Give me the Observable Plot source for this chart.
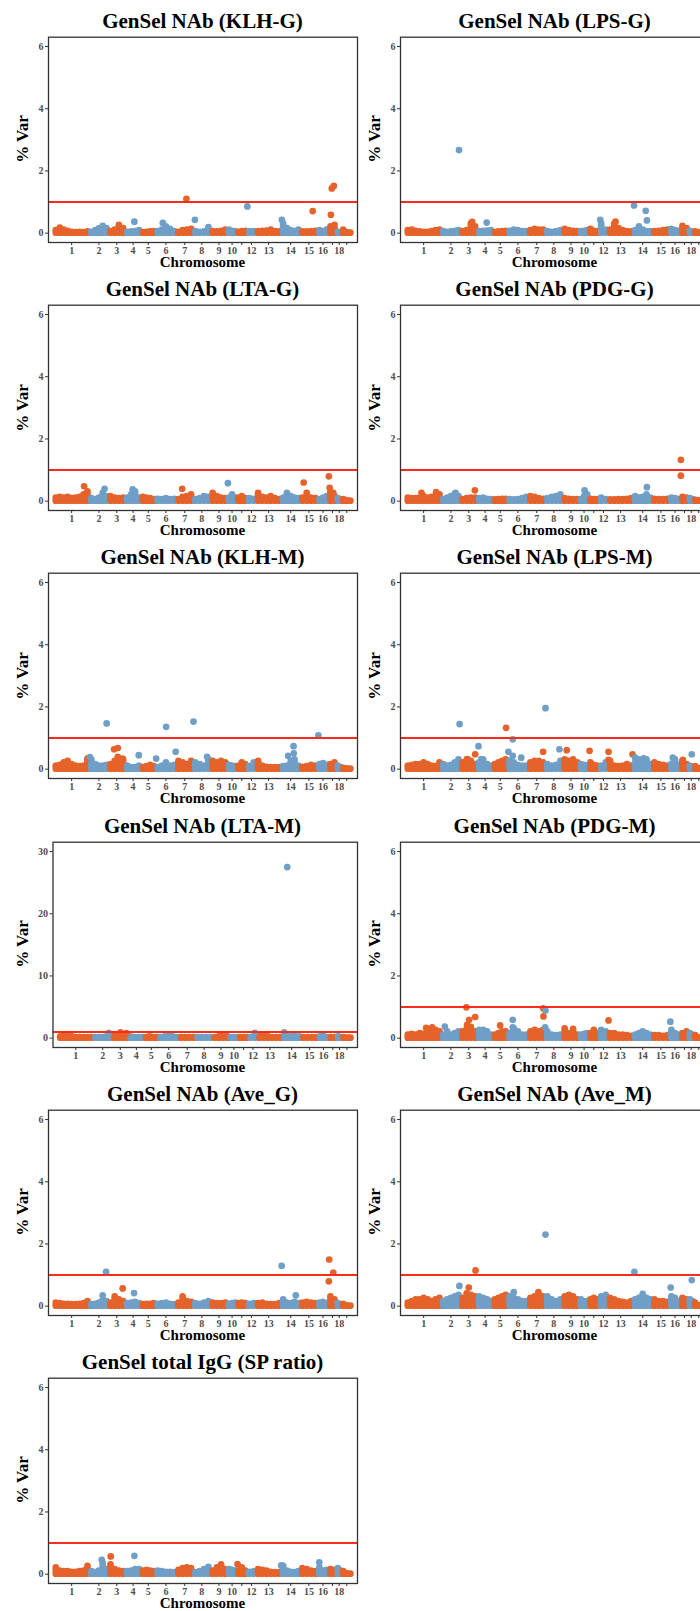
<!DOCTYPE html>
<html><head><meta charset="utf-8">
<script src="https://cdn.jsdelivr.net/npm/d3@7"></script>
<script src="https://cdn.jsdelivr.net/npm/@observablehq/plot@0.6"></script>
<style>
body{margin:0;width:700px;height:1611px;overflow:hidden;background:#fff;font-family:"Liberation Serif",serif;}
#fig{position:relative;width:700px;height:1611px;overflow:hidden;}
.panel{position:absolute;width:360px;height:272px;}
.title{position:absolute;left:38px;width:329px;top:9px;text-align:center;font-weight:bold;font-size:21px;line-height:24px;white-space:nowrap;color:#000;}
.ylab{position:absolute;left:21.7px;top:139.4px;transform:translate(-50%,-50%) rotate(-90deg);font-weight:bold;font-size:17px;line-height:17px;white-space:nowrap;color:#000;}
.xlab{position:absolute;left:48px;width:309px;top:254px;text-align:center;font-weight:bold;font-size:15px;line-height:17px;color:#000;}
.panel svg{position:absolute;left:0;top:0;overflow:visible;}
</style></head><body><div id="fig"></div>
<script>
// Chromosome layout (lengths, Mb-like units)
const chrLen = [309,164,146,137,126,180,146,151,146,81,88,79,219,164,151,94,70,47,84];
const chrLabels = ["1","2","3","4","5","6","7","8","9","10","","12","13","14","15","16","","18",""];
const threshold = 1;

// Band envelopes per chromosome (values along each chromosome) and isolated peaks [chr, fraction, %Var]
const klhG_band = [[0.08,0.16,0.1,0.06,0.03,0.02,0.03,0.02,0.04],[0.03,0.08,0.14,0.22,0.15],[0.05,0.1,0.25,0.15],[0.03,0.04,0.05,0.08],[0.02,0.03,0.04,0.05],[0.05,0.1,0.2,0.12,0.05],[0.03,0.08,0.1,0.12],[0.05,0.03,0.04,0.18],[0.05,0.04,0.06,0.1],[0.1,0.06,0.05],[0.03,0.05,0.06],[0.05,0.05],[0.05,0.06,0.07,0.1,0.05,0.04],[0.3,0.15,0.08,0.05,0.1],[0.04,0.04,0.05,0.06],[0.08,0.05,0.1],[0.2,0.25],[0.03,0.02],[0.1,0.03,0.0,0.0]];
const klhG_peaks = [[4,0.58,0.37],[6,0.35,0.33],[7,0.6,1.1],[8,0.1,0.43],[12,0.05,0.86],[14,0.03,0.43],[15,0.72,0.71],[17,0.3,0.59],[17,0.42,1.44],[17,0.67,1.52]];

const lpsG_band = [[0.08,0.1,0.06,0.04,0.03,0.03,0.05,0.08,0.1],[0.05,0.03,0.04,0.06,0.08],[0.05,0.08,0.3,0.2],[0.05,0.06,0.07,0.08],[0.02,0.04,0.05,0.06],[0.06,0.1,0.08,0.05,0.05],[0.08,0.12,0.1,0.1],[0.05,0.03,0.05,0.08],[0.12,0.08,0.06,0.05],[0.05,0.06,0.08],[0.12,0.06,0.05],[0.3,0.1],[0.1,0.3,0.15,0.08,0.05,0.04],[0.08,0.2,0.1,0.05,0.05],[0.05,0.06,0.08,0.1],[0.12,0.08,0.06],[0.22,0.15],[0.06,0.03],[0.04,0.02,0.01,0.0]];
const lpsG_peaks = [[2,0.93,2.67],[3,0.7,0.36],[4,0.6,0.34],[12,0.15,0.43],[13,0.3,0.37],[14,0.04,0.89],[14,0.66,0.72],[14,0.72,0.41]];

const ltaG_band = [[0.1,0.12,0.1,0.12,0.08,0.1,0.12,0.2,0.3],[0.08,0.05,0.1,0.25,0.15],[0.15,0.1,0.08,0.1],[0.1,0.2,0.3,0.1],[0.12,0.1,0.08,0.05],[0.06,0.05,0.08,0.05,0.06],[0.05,0.12,0.15,0.2],[0.05,0.08,0.15,0.12],[0.25,0.15,0.1,0.08],[0.1,0.2,0.1],[0.1,0.15,0.08],[0.08,0.06],[0.25,0.12,0.1,0.15,0.08,0.05],[0.1,0.25,0.15,0.1,0.08],[0.1,0.25,0.1,0.08],[0.05,0.1,0.15],[0.3,0.15],[0.08,0.05],[0.05,0.02,0.0,0.0]];
const ltaG_peaks = [[1,0.85,0.48],[2,0.8,0.4],[4,0.47,0.38],[7,0.35,0.4],[10,0.05,0.58],[15,0.2,0.6],[17,0.05,0.8],[17,0.15,0.43],[17,0.6,0.27]];

const pdgG_band = [[0.1,0.08,0.08,0.1,0.15,0.1,0.12,0.1,0.2],[0.05,0.1,0.15,0.22,0.15],[0.05,0.08,0.1,0.1],[0.08,0.1,0.06,0.05],[0.04,0.05,0.06,0.06],[0.05,0.04,0.05,0.08,0.12],[0.15,0.12,0.08,0.06],[0.08,0.12,0.15,0.2],[0.08,0.06,0.05,0.05],[0.05,0.15,0.2],[0.06,0.05,0.05],[0.1,0.05],[0.04,0.04,0.05,0.05,0.06,0.08],[0.15,0.1,0.12,0.2,0.1],[0.06,0.05,0.05,0.06],[0.1,0.08,0.05],[0.12,0.1],[0.08,0.05],[0.03,0.02,0.0,0.0]];
const pdgG_peaks = [[1,0.44,0.27],[1,0.85,0.29],[2,0.75,0.27],[3,0.86,0.35],[10,0.55,0.35],[14,0.72,0.45],[17,0.05,1.33],[17,0.05,0.82]];

const klhM_band = [[0.1,0.12,0.2,0.25,0.15,0.1,0.08,0.1,0.3],[0.3,0.15,0.1,0.1,0.12],[0.15,0.25,0.3,0.3],[0.1,0.05,0.05,0.1],[0.05,0.08,0.12,0.08],[0.05,0.1,0.2,0.1,0.12],[0.25,0.2,0.15,0.25],[0.2,0.15,0.1,0.3],[0.25,0.2,0.25,0.2],[0.12,0.1,0.08],[0.1,0.2,0.15],[0.08,0.2],[0.25,0.1,0.06,0.05,0.05,0.05],[0.08,0.1,0.25,0.3,0.1],[0.06,0.08,0.12,0.1],[0.15,0.18,0.12],[0.15,0.2],[0.1,0.05],[0.03,0.01,0.0,0.0]];
const klhM_peaks = [[1,0.95,0.35],[2,0.02,0.39],[2,0.91,1.47],[3,0.34,0.64],[3,0.56,0.68],[3,0.56,0.4],[3,0.84,0.34],[4,0.86,0.45],[6,0.03,0.34],[6,0.51,1.36],[6,0.97,0.56],[8,0.02,1.53],[8,0.8,0.4],[14,0.36,0.43],[14,0.65,0.74],[14,0.66,0.51],[16,0.07,1.09]];

const lpsM_band = [[0.1,0.12,0.15,0.15,0.2,0.15,0.1,0.08,0.2],[0.15,0.1,0.12,0.2,0.3],[0.2,0.3,0.25,0.15],[0.2,0.3,0.15,0.1],[0.15,0.2,0.25,0.3],[0.25,0.2,0.12,0.1,0.1],[0.2,0.25,0.25,0.2],[0.15,0.1,0.12,0.25],[0.3,0.25,0.3,0.2],[0.15,0.12,0.1],[0.2,0.12,0.1],[0.1,0.2],[0.25,0.1,0.08,0.1,0.15,0.1],[0.2,0.3,0.25,0.3,0.15],[0.2,0.15,0.12,0.1],[0.15,0.3,0.12],[0.25,0.15],[0.1,0.05],[0.08,0.03,0.01,0.0]];
const lpsM_peaks = [[2,0.96,1.45],[3,0.42,0.32],[3,0.88,0.48],[4,0.08,0.74],[4,0.26,0.32],[5,0.9,1.33],[6,0.04,0.56],[6,0.25,0.96],[6,0.25,0.43],[6,0.66,0.37],[7,0.88,0.56],[8,0.02,1.96],[8,0.82,0.64],[9,0.25,0.61],[11,0.08,0.59],[13,0.02,0.56],[13,0.02,0.3],[13,0.97,0.48],[14,0.1,0.37],[14,0.55,0.35],[16,0.3,0.37],[17,0.3,0.3],[18,0.6,0.48]];

const ltaM_band = [[0.2,0.3,0.3,0.2,0.1,0.1,0.1,0.1,0.1],[0.1,0.1,0.1,0.2,0.3],[0.3,0.4,0.5,0.4],[0.2,0.1,0.1,0.1],[0.1,0.2,0.1,0.1],[0.1,0.2,0.3,0.2,0.1],[0.1,0.1,0.1,0.1],[0.1,0.1,0.1,0.1],[0.1,0.2,0.3,0.2],[0.1,0.1,0.1],[0.1,0.1,0.1],[0.1,0.3],[0.3,0.2,0.2,0.1,0.1,0.1],[0.3,0.5,0.3,0.2,0.2],[0.1,0.1,0.1,0.1],[0.2,0.3,0.1],[0.1,0.1],[0.2,0.1],[0.1,0.0,0.0,0.0]];
const ltaM_peaks = [[1,0.26,0.4],[2,0.83,0.85],[3,0.51,0.95],[3,0.86,0.8],[6,0.52,0.4],[9,0.46,0.4],[12,0.69,0.85],[13,0.25,0.4],[14,0.1,0.95],[14,0.26,27.5]];

const pdgM_band = [[0.1,0.12,0.1,0.15,0.12,0.2,0.15,0.25,0.2],[0.1,0.2,0.1,0.15,0.2],[0.2,0.3,0.35,0.2],[0.25,0.25,0.2,0.1],[0.1,0.15,0.2,0.2],[0.15,0.3,0.2,0.1,0.1],[0.2,0.25,0.2,0.25],[0.2,0.1,0.08,0.1],[0.3,0.15,0.28,0.1],[0.1,0.12,0.15],[0.15,0.25,0.15],[0.25,0.2],[0.15,0.15,0.1,0.1,0.08,0.06],[0.1,0.15,0.2,0.15,0.1],[0.08,0.08,0.06,0.08],[0.25,0.15,0.1],[0.15,0.2],[0.15,0.1],[0.08,0.02,0.0,0.0]];
const pdgM_peaks = [[1,0.57,0.33],[1,0.74,0.35],[2,0.18,0.37],[3,0.36,0.99],[3,0.4,0.43],[3,0.52,0.59],[3,0.88,0.68],[5,0.49,0.41],[6,0.25,0.59],[6,0.25,0.35],[7,0.88,0.96],[7,0.9,0.7],[8,0.02,0.89],[8,0.0,0.35],[13,0.02,0.57],[16,0.07,0.53]];

const aveG_band = [[0.1,0.08,0.06,0.06,0.05,0.05,0.06,0.08,0.15],[0.05,0.06,0.1,0.2,0.15],[0.1,0.3,0.2,0.15],[0.08,0.1,0.12,0.08],[0.05,0.06,0.06,0.08],[0.06,0.08,0.1,0.06,0.05],[0.1,0.3,0.15,0.12],[0.08,0.06,0.1,0.15],[0.1,0.08,0.08,0.1],[0.06,0.08,0.1],[0.08,0.1,0.08],[0.06,0.08],[0.08,0.1,0.06,0.05,0.05,0.08],[0.2,0.1,0.08,0.12,0.08],[0.1,0.12,0.1,0.08],[0.1,0.12,0.08],[0.3,0.2],[0.08,0.05],[0.06,0.02,0.0,0.0]];
const aveG_peaks = [[2,0.7,0.35],[2,0.88,1.1],[3,0.85,0.57],[4,0.56,0.42],[14,0.02,1.3],[14,0.77,0.35],[17,0.05,0.8],[17,0.1,1.5],[17,0.6,1.08]];

const aveM_band = [[0.1,0.15,0.2,0.2,0.25,0.2,0.15,0.2,0.25],[0.15,0.2,0.25,0.3,0.35],[0.25,0.4,0.35,0.3],[0.3,0.25,0.2,0.15],[0.2,0.25,0.3,0.35],[0.3,0.25,0.2,0.15,0.15],[0.25,0.3,0.35,0.3],[0.3,0.2,0.15,0.2],[0.3,0.35,0.3,0.2],[0.2,0.15,0.15],[0.2,0.25,0.2],[0.3,0.35],[0.25,0.2,0.15,0.12,0.1,0.15],[0.2,0.25,0.3,0.25,0.2],[0.2,0.15,0.15,0.12],[0.3,0.25,0.15],[0.25,0.2],[0.2,0.15],[0.1,0.03,0.0,0.0]];
const aveM_peaks = [[2,0.95,0.65],[3,0.5,0.6],[3,0.9,1.15],[6,0.3,0.45],[7,0.6,0.45],[8,0.02,2.3],[14,0.06,1.1],[14,0.5,0.4],[16,0.1,0.6],[18,0.6,0.84]];

const sp_band = [[0.2,0.1,0.08,0.08,0.06,0.06,0.08,0.1,0.25],[0.08,0.05,0.1,0.35,0.15],[0.3,0.15,0.1,0.08],[0.08,0.1,0.15,0.15],[0.1,0.12,0.1,0.08],[0.1,0.08,0.06,0.06,0.05],[0.12,0.18,0.2,0.18],[0.05,0.08,0.15,0.22],[0.1,0.2,0.3,0.15],[0.15,0.12,0.1],[0.1,0.2,0.1],[0.06,0.08],[0.15,0.12,0.1,0.06,0.05,0.05],[0.25,0.1,0.06,0.05,0.08],[0.18,0.15,0.1,0.08],[0.2,0.1,0.12],[0.15,0.12],[0.18,0.1],[0.08,0.03,0.0,0.0]];
const sp_peaks = [[2,0.65,0.46],[3,0.14,0.57],[4,0.58,0.59],[11,0.08,0.32],[14,0.0,0.28],[16,0.16,0.38]];

const titles = ["GenSel NAb (KLH-G)","GenSel NAb (LPS-G)","GenSel NAb (LTA-G)","GenSel NAb (PDG-G)","GenSel NAb (KLH-M)","GenSel NAb (LPS-M)","GenSel NAb (LTA-M)","GenSel NAb (PDG-M)","GenSel NAb (Ave_G)","GenSel NAb (Ave_M)","GenSel total IgG (SP ratio)"];
const bands = [klhG_band,lpsG_band,ltaG_band,pdgG_band,klhM_band,lpsM_band,ltaM_band,pdgM_band,aveG_band,aveM_band,sp_band];
const peaksList = [klhG_peaks,lpsG_peaks,ltaG_peaks,pdgG_peaks,klhM_peaks,lpsM_peaks,ltaM_peaks,pdgM_peaks,aveG_peaks,aveM_peaks,sp_peaks];
const yMaxes = [6,6,6,6,6,6,30,6,6,6,6];

const ORANGE = "#E5632A", BLUE = "#6F9FC7", RED = "#FF2B1C";
const starts = []; { let s = 0; for (const L of chrLen) { starts.push(s); s += L; } }
const total = d3.sum(chrLen);
const mids = chrLen.map((L, i) => starts[i] + L / 2);
const labelByMid = new Map(mids.map((m, i) => [m, chrLabels[i]]));

const fig = document.getElementById("fig");
const ROW = 268.2, COL = 352;

titles.forEach((title, k) => {
  const row = Math.floor(k / 2), col = k % 2;
  const panel = document.createElement("div");
  panel.className = "panel";
  panel.style.left = (col * COL) + "px";
  panel.style.top = (row * ROW) + "px";

  const band = [];
  bands[k].forEach((vals, c) => {
    vals.forEach((v, i) => band.push({chr: c + 1, pos: starts[c] + (i + 0.5) / vals.length * chrLen[c], v}));
  });
  const peaks = peaksList[k].map(([chr, f, v]) => ({chr, pos: starts[chr - 1] + f * chrLen[chr - 1], v}));
  const par = d => d.chr % 2 ? "odd" : "even";
  const yMax = yMaxes[k];
  const ml = yMax >= 10 ? 52.5 : 48;

  const svg = Plot.plot({
    width: 360, height: 272,
    marginLeft: ml, marginRight: 3, marginTop: 36.7, marginBottom: 30,
    style: {fontFamily: "'Liberation Serif', serif", fontWeight: "bold", fontSize: "10px", color: "#4d4d4d", background: "transparent", overflow: "visible"},
    x: {domain: [-46, total + 51], axis: null},
    y: {domain: [-0.05 * yMax, 1.05 * yMax], axis: null},
    color: {domain: ["odd", "even"], range: [ORANGE, BLUE]},
    marks: [
      Plot.axisX({ticks: mids, tickFormat: d => labelByMid.get(d), tickSize: 3, tickPadding: 1, label: null, stroke: "#333"}),
      Plot.axisY({ticks: d3.range(0, yMax + 0.001, yMax / 3), tickFormat: d3.format("d"), tickSize: 3, tickPadding: 2, label: null, stroke: "#333"}),
      Plot.ruleX(band, {x: "pos", y1: 0, y2: "v", stroke: par, strokeWidth: 6.7, strokeLinecap: "round"}),
      Plot.dot(peaks, {x: "pos", y: "v", r: 3.35, fill: par, stroke: "none"}),
      Plot.ruleY([threshold], {stroke: RED, strokeWidth: 2}),
      Plot.frame({stroke: "#333", strokeWidth: 1.3})
    ]
  });
  panel.appendChild(svg);

  const t = document.createElement("div"); t.className = "title"; t.textContent = title; panel.appendChild(t);
  const yl = document.createElement("div"); yl.className = "ylab"; yl.textContent = "% Var"; panel.appendChild(yl);
  const xl = document.createElement("div"); xl.className = "xlab"; xl.textContent = "Chromosome"; panel.appendChild(xl);
  fig.appendChild(panel);
});
</script></body></html>
